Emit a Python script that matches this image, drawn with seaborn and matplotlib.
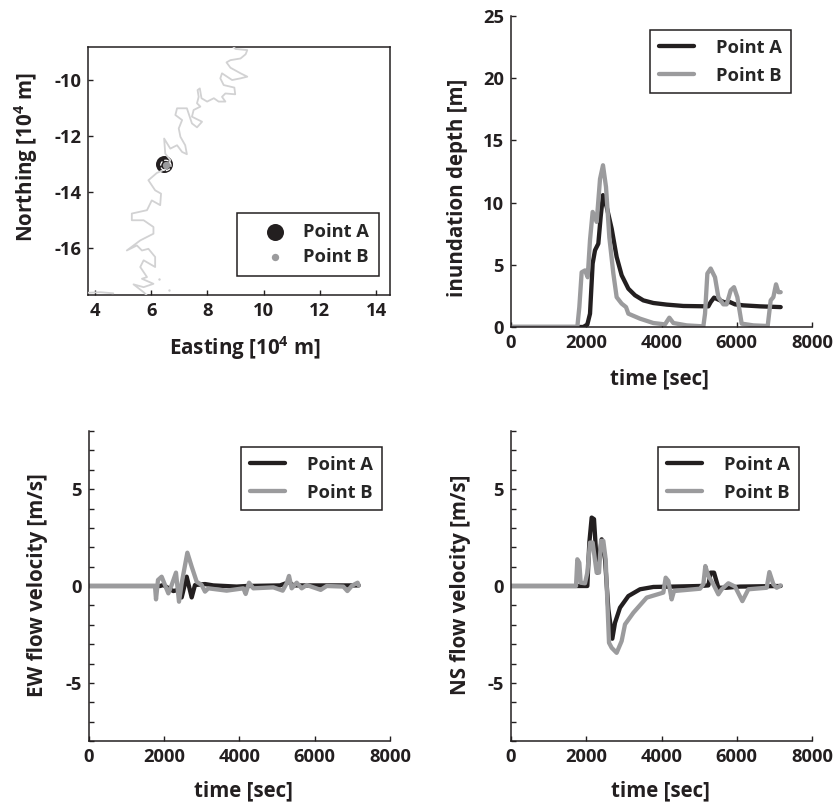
import matplotlib
matplotlib.use('Agg')
import matplotlib.pyplot as plt
import seaborn as sns

sns.set_style('ticks')
plt.rcParams['font.family'] = ['Open Sans', 'DejaVu Sans']
plt.rcParams['font.weight'] = 'bold'
plt.rcParams['axes.labelweight'] = 'bold'
plt.rcParams['axes.unicode_minus'] = False
plt.rcParams['mathtext.fontset'] = 'custom'
plt.rcParams['mathtext.bf'] = 'Open Sans:bold'

DARK = '#231f20'
GRAY = '#9b9b9d'
COAST = '#d2d2d3'

# coastline, 10^4 m
coast_x = [8.92, 9.00, 9.42, 9.36, 9.18, 8.82, 8.68, 8.82, 9.18, 9.42, 9.18, 8.88, 8.52, 8.46, 8.58, 8.96, 8.99,
           8.64, 8.52, 8.64, 8.40, 8.23, 7.99, 7.79, 7.73, 7.65, 7.69, 7.63, 7.75, 7.51, 7.45, 7.81, 7.63, 7.45,
           7.27, 6.92, 6.86, 7.10, 6.98, 7.04, 7.21, 7.27, 7.10, 6.92, 6.68, 6.46, 6.50, 6.68, 6.56, 6.20, 5.90,
           6.14, 6.35, 6.32, 6.02, 5.85, 5.31, 5.31, 5.73, 6.08, 6.08, 5.61, 5.13, 5.49, 5.67, 5.90, 6.14, 6.14,
           5.73, 5.61, 5.85, 5.67, 6.08, 5.73, 5.37, 5.73, 5.85]
coast_y = [-8.81, -8.89, -8.93, -9.08, -9.23, -9.29, -9.37, -9.56, -9.76, -9.88, -9.94, -10.0, -9.76, -9.94,
           -10.18, -10.27, -10.51, -10.48, -10.60, -10.77, -10.77, -10.65, -10.77, -10.65, -10.30, -10.36, -10.60,
           -10.83, -10.95, -11.07, -11.31, -11.49, -11.69, -11.55, -11.01, -11.01, -11.25, -11.43, -11.73, -12.03,
           -12.33, -12.65, -12.57, -12.33, -12.45, -12.09, -12.63, -12.86, -13.16, -13.32, -13.58, -13.94, -14.06,
           -14.47, -14.30, -14.65, -14.77, -15.01, -15.01, -15.25, -15.49, -15.73, -16.09, -15.91, -16.09, -16.03,
           -16.32, -16.68, -16.44, -16.68, -17.04, -17.10, -17.28, -17.40, -17.30, -17.58, -17.70]
coast2_x = [3.75, 4.2, 4.65]
coast2_y = [-17.6, -17.58, -17.62]
islet_x = [6.27, 6.62]
islet_y = [-17.1, -17.49]
point_a = (6.46, -13.0)
point_b = (6.52, -13.05)

# inundation depth [m]
depth_a_t = [0, 1923, 2029, 2100, 2170, 2233, 2321, 2383, 2445, 2543, 2676, 2808, 2941, 3119, 3296, 3517, 3783,
             4137, 4581, 5245, 5307, 5396, 5511, 5661, 5821, 5954, 6175, 6618, 7168]
depth_a = [0, 0, 0.2, 1.07, 5.1, 6.17, 6.7, 8.85, 10.6, 9.65, 7.9, 5.63, 4.16, 3.08, 2.55, 2.14, 1.93,
           1.8, 1.69, 1.66, 2.0, 2.36, 2.2, 2.0, 2.0, 1.82, 1.74, 1.66, 1.6]
depth_b_t = [0, 1763, 1816, 1878, 1967, 2038, 2100, 2170, 2277, 2366, 2445, 2525, 2614, 2720, 2808, 2941, 3057,
             3119, 3429, 3783, 4093, 4208, 4315, 4670, 5112, 5157, 5219, 5307, 5422, 5511, 5644, 5732, 5839,
             5927, 6016, 6131, 6441, 6822, 6902, 6973, 7044, 7106, 7168]
depth_b = [0, 0, 1.6, 4.4, 4.55, 4.0, 7.0, 9.25, 8.45, 11.9, 13.0, 11.26, 7.2, 4.3, 2.4, 1.88, 1.6,
           1.07, 0.67, 0.32, 0.21, 0.75, 0.32, 0.13, 0.05, 1.07, 4.3, 4.7, 4.0, 2.4, 1.82, 1.82, 2.95,
           3.2, 2.4, 0.27, 0.13, 0.08, 2.14, 2.4, 3.43, 2.8, 2.8]

# EW velocity [m/s]
ew_a_t = [0, 1887, 1975, 2241, 2374, 2463, 2596, 2729, 2817, 3083, 3305, 3925, 4190, 5077, 5316, 5431, 5963, 7168]
ew_a = [0, 0, 0.05, -0.26, -0.2, -0.59, 0.48, -0.59, 0.05, 0.1, 0.03, -0.03, 0, 0.03, 0.2, 0.03, 0.03, 0.03]
ew_b_t = [0, 1754, 1781, 1834, 1931, 2109, 2197, 2312, 2392, 2463, 2614, 2729, 2862, 2995, 3083, 3172, 3659,
          4102, 4164, 4253, 4368, 4900, 5148, 5254, 5316, 5387, 5520, 5653, 5785, 5963, 6158, 6317, 6760, 6867,
          6982, 7070, 7140, 7168]
ew_b = [0, 0, -0.69, 0.31, 0.48, -0.38, 0.05, 0.69, -0.81, 0.14, 1.72, 1.0, 0.22, 0.05, -0.29, -0.12, -0.24,
        -0.12, -0.41, 0.17, -0.12, -0.07, -0.24, 0.14, 0.52, -0.12, 0.17, -0.12, 0.05, -0.07, -0.2, 0, -0.03, -0.26,
        0, 0.1, 0.17, 0.03]

# NS velocity [m/s]
ns_a_t = [0, 1790, 2029, 2082, 2144, 2206, 2295, 2410, 2499, 2587, 2693, 2764, 2897, 3119, 3429, 3783, 4315, 5024,
          5245, 5307, 5396, 5511, 5732, 6086, 7168]
ns_a = [0, 0, 0, 2.24, 3.53, 3.45, 0.69, 2.41, 1.38, -1.2, -2.72, -1.9, -1.12, -0.52, -0.17, -0.05, -0.03, 0,
        0.03, 0.69, 0.69, -0.09, -0.09, -0.03, 0]
ns_b_t = [0, 1728, 1763, 1816, 1852, 1967, 2029, 2100, 2170, 2277, 2339, 2392, 2454, 2516, 2605, 2676, 2808, 2941,
          3030, 3252, 3606, 4049, 4111, 4182, 4270, 4332, 5024, 5112, 5165, 5245, 5378, 5511, 5600, 5777, 5954,
          6149, 6308, 6796, 6867, 6973, 7062, 7168]
ns_b = [0, 0, 1.38, 1.2, 0.17, 0.14, 0.69, 2.24, 2.24, 0.69, 0.69, 2.33, 2.33, 1.38, -2.93, -3.19, -3.45, -2.84,
        -1.98, -1.38, -0.6, -0.34, 0.43, 0.26, -0.69, -0.26, -0.14, 0.09, 1.03, 0.52, 0.09, -0.43, -0.17, 0.14, -0.03,
        -0.78, -0.17, -0.09, 0.72, 0.09, -0.09, 0.03]

W, H = 835, 805
fig = plt.figure(figsize=(W / 100, H / 100), dpi=100)


def make_axes(left, right, top, bottom):
    return fig.add_axes([left / W, 1 - bottom / H, (right - left) / W, (bottom - top) / H])


def style(ax, xlabel, ylabel, xlab_pos, ylab_pos):
    ax.set_xlabel(xlabel, fontsize=14.8, color=DARK)
    ax.set_ylabel(ylabel, fontsize=14.8, color=DARK)
    ax.xaxis.set_label_coords(xlab_pos[0] / W, 1 - xlab_pos[1] / H, transform=fig.transFigure)
    ax.yaxis.set_label_coords(ylab_pos[0] / W, 1 - ylab_pos[1] / H, transform=fig.transFigure)
    ax.tick_params(direction='in', length=3.5, width=1, colors=DARK, labelsize=13.2, pad=5)
    for s in ax.spines.values():
        s.set_linewidth(1.1)
        s.set_color(DARK)


def curves(ax, ta, a, tb, b, legend_left, legend_top):
    for t, v, c, name in [(ta, a, DARK, 'Point A'), (tb, b, GRAY, 'Point B')]:
        sns.lineplot(x=t, y=v, ax=ax, color=c, lw=3.1, sort=False, estimator=None, label=name,
                     solid_joinstyle='round')
    ax.set_xlim(0, 8000)
    ax.set_xticks([0, 2000, 4000, 6000, 8000])
    sns.despine(ax=ax)
    leg = ax.legend(loc='upper left', bbox_to_anchor=(legend_left / W, 1 - legend_top / H),
                    bbox_transform=fig.transFigure, fancybox=False, framealpha=1, edgecolor=DARK, fontsize=13.2,
                    handlelength=1.95, handletextpad=1.2, borderaxespad=0, labelspacing=0.55, borderpad=0.47)
    leg.get_frame().set_linewidth(1.1)


# map panel
ax1 = make_axes(88, 390, 47, 295)
sns.scatterplot(x=[point_a[0]], y=[point_a[1]], ax=ax1, s=150, color=DARK, linewidth=0, label='Point A', zorder=2)
for cx, cy in [(coast_x, coast_y), (coast2_x, coast2_y)]:
    sns.lineplot(x=cx, y=cy, ax=ax1, color=COAST, lw=1.3, sort=False, estimator=None, zorder=3,
                 solid_joinstyle='round')
ax1.scatter(islet_x, islet_y, s=3, color=COAST, linewidths=0, zorder=3)
ax1.scatter([point_b[0]], [point_b[1]], s=55, facecolors='none', edgecolors='white', linewidths=0.9,
            linestyles='--', zorder=4)
sns.scatterplot(x=[point_b[0]], y=[point_b[1]], ax=ax1, s=28, color=GRAY, linewidth=0, label='Point B', zorder=5)
ax1.set_xlim(3.75, 14.5)
ax1.set_ylim(-17.68, -8.82)
ax1.set_xticks([4, 6, 8, 10, 12, 14])
ax1.set_yticks([-10, -12, -14, -16])
style(ax1, r'Easting [10$^{\mathbf{4}}$ m]', r'Northing [10$^{\mathbf{4}}$ m]', (245, 334), (40, 157))
leg = ax1.legend(loc='upper left', bbox_to_anchor=(237 / W, 1 - 213 / H), bbox_transform=fig.transFigure,
                 fancybox=False, framealpha=1, edgecolor=DARK, fontsize=13.2, handlelength=3, handletextpad=0.05,
                 borderaxespad=0, labelspacing=0.35, borderpad=0.55)
leg.get_frame().set_linewidth(1.1)

# depth
ax2 = make_axes(511, 812, 16, 327)
curves(ax2, depth_a_t, depth_a, depth_b_t, depth_b, 650, 30)
ax2.set_ylim(0, 25)
ax2.set_yticks([0, 5, 10, 15, 20, 25])
style(ax2, 'time [sec]', 'inundation depth [m]', (659, 368), (468, 188))

# EW
ax3 = make_axes(89, 390, 431, 741)
curves(ax3, ew_a_t, ew_a, ew_b_t, ew_b, 241, 447)
ax3.set_ylim(-8, 8)
ax3.set_yticks([-5, 0, 5])
ax3.set_yticks(range(-8, 9), minor=True)
style(ax3, 'time [sec]', 'EW flow velocity [m/s]', (243, 780), (48, 585))

# NS
ax4 = make_axes(511, 812, 431, 741)
curves(ax4, ns_a_t, ns_a, ns_b_t, ns_b, 658, 447)
ax4.set_ylim(-8, 8)
ax4.set_yticks([-5, 0, 5])
ax4.set_yticks(range(-8, 9), minor=True)
style(ax4, 'time [sec]', 'NS flow velocity [m/s]', (660, 780), (471, 585))

for ax in (ax3, ax4):
    ax.tick_params(which='minor', direction='in', length=3.5, width=1, color=DARK)

fig.savefig('out.png', dpi=100)
